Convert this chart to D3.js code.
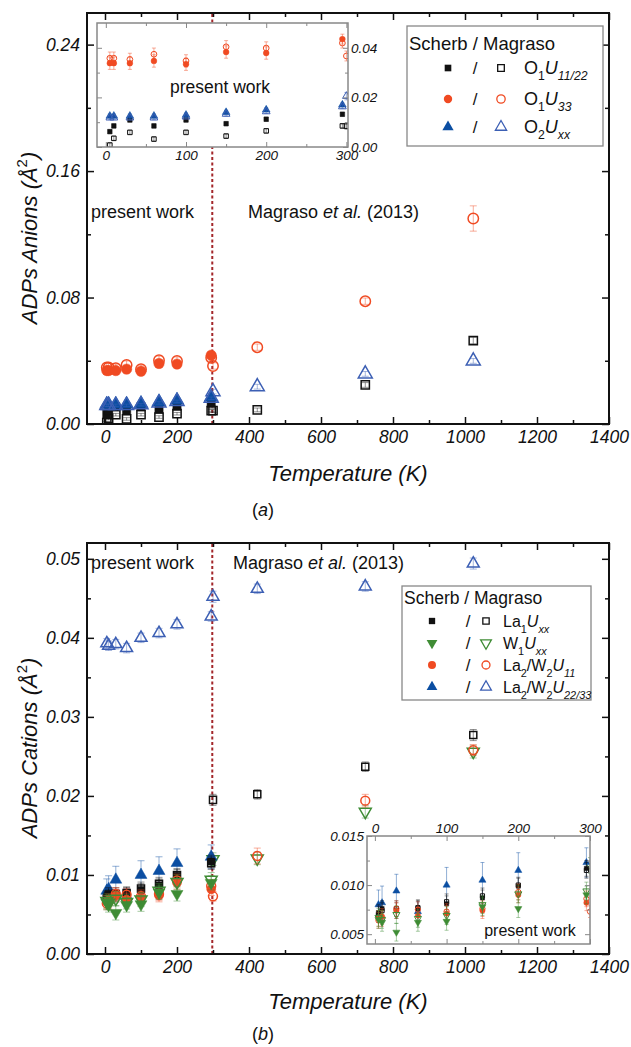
<!DOCTYPE html>
<html>
<head>
<meta charset="utf-8">
<script src="https://cdn.jsdelivr.net/npm/d3@7"></script>
<style>
  body { margin: 0; background: #fff; }
  text { font-family: "Liberation Sans", Arial, sans-serif; }
</style>
</head>
<body>
<svg id="fig" width="631" height="1047"></svg>
<script>
// temperatures (K)
const tempPresent = [5, 10, 30, 60, 100, 150, 200, 295];
const tempMagraso = [300, 423, 723, 1023];
const boundaryT = 298;

// ---- panel (a): anions ----
const o1U1122Scherb      = [0.0062, 0.0085, 0.0109, 0.0085, 0.0109, 0.0094, 0.0112, 0.0132];
const o1U1122ScherbErr   = [0.0008, 0.0008, 0.0008, 0.0008, 0.0008, 0.0008, 0.0008, 0.0008];
const o1U1122PwOpen      = [0.0008, 0.0035, 0.0059, 0.0032, 0.0059, 0.0044, 0.0065, 0.0085];
const o1U1122PwOpenErr   = [0.0008, 0.0008, 0.0008, 0.0008, 0.0008, 0.0008, 0.0008, 0.0008];
const o1U1122Magraso     = [0.0084, 0.0089, 0.0247, 0.0528];
const o1U1122MagrasoErr  = [0.0012, 0.0012, 0.0015, 0.0020];

const o1U33Scherb        = [0.0338, 0.0338, 0.0338, 0.0347, 0.0334, 0.0383, 0.0379, 0.0435];
const o1U33ScherbErr     = [0.0025, 0.0025, 0.0025, 0.0025, 0.0025, 0.0025, 0.0025, 0.0020];
const o1U33PwOpen        = [0.0358, 0.0358, 0.0353, 0.0374, 0.0347, 0.0404, 0.0399, 0.0419];
const o1U33PwOpenErr     = [0.0025, 0.0025, 0.0025, 0.0025, 0.0025, 0.0025, 0.0025, 0.0020];
const o1U33Magraso       = [0.0367, 0.0486, 0.0777, 0.1300];
const o1U33MagrasoErr    = [0.0020, 0.0020, 0.0020, 0.0080];

const o2UxxScherb        = [0.0125, 0.0125, 0.0125, 0.0125, 0.0129, 0.0140, 0.0150, 0.0170];
const o2UxxScherbErr     = [0.0008, 0.0008, 0.0008, 0.0008, 0.0008, 0.0008, 0.0008, 0.0008];
const o2UxxPwOpen        = [0.0118, 0.0118, 0.0118, 0.0118, 0.0122, 0.0133, 0.0143, 0.0163];
const o2UxxPwOpenErr     = [0.0008, 0.0008, 0.0008, 0.0008, 0.0008, 0.0008, 0.0008, 0.0008];
const o2UxxMagraso       = [0.0205, 0.0236, 0.0317, 0.0399];
const o2UxxMagrasoErr    = [0.0015, 0.0015, 0.0015, 0.0015];

// ---- panel (b): cations ----
const la1UxxScherb       = [0.0072, 0.0076, 0.0074, 0.0076, 0.0081, 0.0087, 0.0099, 0.0117];
const la1UxxScherbErr    = [0.0008, 0.0008, 0.0008, 0.0008, 0.0008, 0.0008, 0.0008, 0.0008];
const la1UxxPwOpen       = [0.0070, 0.0074, 0.0076, 0.0077, 0.0083, 0.0089, 0.0100, 0.0115];
const la1UxxPwOpenErr    = [0.0008, 0.0008, 0.0008, 0.0008, 0.0008, 0.0008, 0.0008, 0.0008];
const la1UxxMagraso      = [0.0195, 0.0202, 0.0237, 0.0277];
const la1UxxMagrasoErr   = [0.0007, 0.0006, 0.0006, 0.0007];

const w1UxxScherb        = [0.0065, 0.0062, 0.0052, 0.0062, 0.0063, 0.0078, 0.0076, 0.0090];
const w1UxxScherbErr     = [0.0009, 0.0009, 0.0009, 0.0009, 0.0009, 0.0009, 0.0009, 0.0009];
const w1UxxPwOpen        = [0.0067, 0.0065, 0.0070, 0.0066, 0.0069, 0.0080, 0.0091, 0.0094];
const w1UxxPwOpenErr     = [0.0009, 0.0009, 0.0009, 0.0009, 0.0009, 0.0009, 0.0009, 0.0009];
const w1UxxMagraso       = [0.0120, 0.0121, 0.0180, 0.0256];
const w1UxxMagrasoErr    = [0.0008, 0.0008, 0.0008, 0.0008];

const la2U11Scherb       = [0.0066, 0.0068, 0.0074, 0.0069, 0.0071, 0.0074, 0.0090, 0.0082];
const la2U11ScherbErr    = [0.0008, 0.0008, 0.0008, 0.0008, 0.0008, 0.0008, 0.0008, 0.0008];
const la2U11PwOpen       = [0.0064, 0.0066, 0.0076, 0.0075, 0.0073, 0.0076, 0.0093, 0.0086];
const la2U11PwOpenErr    = [0.0008, 0.0008, 0.0008, 0.0008, 0.0008, 0.0008, 0.0008, 0.0008];
const la2U11Magraso      = [0.0073, 0.0124, 0.0194, 0.0258];
const la2U11MagrasoErr   = [0.0006, 0.0010, 0.0008, 0.0007];

const la2U2233Scherb     = [0.0080, 0.0082, 0.0094, 0.0073, 0.0100, 0.0105, 0.0115, 0.0123];
const la2U2233ScherbErr  = [0.0015, 0.0017, 0.0017, 0.0010, 0.0018, 0.0018, 0.0018, 0.0015];
const la2U2233PwOpen     = [0.0393, 0.0390, 0.0392, 0.0387, 0.0400, 0.0406, 0.0417, 0.0427];
const la2U2233PwOpenErr  = [0.0006, 0.0006, 0.0006, 0.0006, 0.0006, 0.0006, 0.0006, 0.0006];
const la2U2233Magraso    = [0.0452, 0.0462, 0.0465, 0.0494];
const la2U2233MagrasoErr = [0.0007, 0.0006, 0.0006, 0.0007];

// ticks
const xMajorTicks = [0, 200, 400, 600, 800, 1000, 1200, 1400];
const xMinorTicks = [100, 300, 500, 700, 900, 1100, 1300];
const yMajorA = [0, 0.08, 0.16, 0.24];
const yMinorA = [0.04, 0.12, 0.20];
const yMajorB = [0, 0.01, 0.02, 0.03, 0.04, 0.05];
const yMinorB = [0.005, 0.015, 0.025, 0.035, 0.045];
const insetXMajor = [0, 100, 200, 300];
const insetXMinor = [50, 150, 250];
const insetYMajorA = [0, 0.02, 0.04];
const insetYMinorA = [0.01, 0.03];
const insetYMajorB = [0.005, 0.010, 0.015];
const insetYMinorB = [0.0075, 0.0125];

const BLACK = "#111", RED = "#f04a22", GREEN = "#3f8c35", BLUE = "#0b4ea2", BLUE_OPEN = "#3c5fb4";

const svg = d3.select("#fig");

function sym(shape) {
  if (shape === "square") return d3.symbolSquare;
  if (shape === "circle") return d3.symbolCircle;
  return d3.symbolTriangle;
}

// build list of series objects
function mk(temps, vals, errs, shape, filled, color) {
  return { pts: temps.map((t, i) => ({ t: t, v: vals[i], e: errs[i] })), shape, filled, color };
}

const seriesA = [
  mk(tempMagraso, o1U1122Magraso, o1U1122MagrasoErr, "square", false, BLACK),
  mk(tempMagraso, o1U33Magraso, o1U33MagrasoErr, "circle", false, RED),
  mk(tempMagraso, o2UxxMagraso, o2UxxMagrasoErr, "triangle", false, BLUE_OPEN),
  mk(tempPresent, o1U33PwOpen, o1U33PwOpenErr, "circle", false, RED),
  mk(tempPresent, o1U33Scherb, o1U33ScherbErr, "circle", true, RED),
  mk(tempPresent, o1U1122PwOpen, o1U1122PwOpenErr, "square", false, BLACK),
  mk(tempPresent, o1U1122Scherb, o1U1122ScherbErr, "square", true, BLACK),
  mk(tempPresent, o2UxxScherb, o2UxxScherbErr, "triangle", true, BLUE),
  mk(tempPresent, o2UxxPwOpen, o2UxxPwOpenErr, "triangle", false, BLUE_OPEN)
];

const seriesB = [
  mk(tempMagraso, la1UxxMagraso, la1UxxMagrasoErr, "square", false, BLACK),
  mk(tempMagraso, w1UxxMagraso, w1UxxMagrasoErr, "down", false, GREEN),
  mk(tempMagraso, la2U11Magraso, la2U11MagrasoErr, "circle", false, RED),
  mk(tempMagraso, la2U2233Magraso, la2U2233MagrasoErr, "triangle", false, BLUE_OPEN),
  mk(tempPresent, la2U2233PwOpen, la2U2233PwOpenErr, "triangle", false, BLUE_OPEN),
  mk(tempPresent, la2U2233Scherb, la2U2233ScherbErr, "triangle", true, BLUE),
  mk(tempPresent, la1UxxScherb, la1UxxScherbErr, "square", true, BLACK),
  mk(tempPresent, la1UxxPwOpen, la1UxxPwOpenErr, "square", false, BLACK),
  mk(tempPresent, la2U11Scherb, la2U11ScherbErr, "circle", true, RED),
  mk(tempPresent, la2U11PwOpen, la2U11PwOpenErr, "circle", false, RED),
  mk(tempPresent, w1UxxScherb, w1UxxScherbErr, "down", true, GREEN),
  mk(tempPresent, w1UxxPwOpen, w1UxxPwOpenErr, "down", false, GREEN)
];

let clipId = 0;
function drawPoints(g, list, x, y, size, cap, sw) {
  const id = "clip" + (clipId++);
  const [x0, x1] = x.range(), [y0, y1] = y.range();
  g.append("clipPath").attr("id", id).append("rect")
    .attr("x", x0).attr("y", y1).attr("width", x1 - x0).attr("height", y0 - y1);
  const pg = g.append("g").attr("clip-path", `url(#${id})`);
  list.forEach(s => {
    const sg = pg.append("g");
    // error bars
    s.pts.forEach(p => {
      const cx = x(p.t);
      sg.append("path")
        .attr("d", `M${cx},${y(p.v - p.e)}V${y(p.v + p.e)}M${cx - cap},${y(p.v - p.e)}H${cx + cap}M${cx - cap},${y(p.v + p.e)}H${cx + cap}`)
        .attr("stroke", s.color).attr("stroke-opacity", 0.45).attr("stroke-width", 1).attr("fill", "none");
    });
    const k = s.shape === "square" ? 0.8 : 1;
    sg.selectAll("path.m").data(s.pts).join("path").attr("class", "m")
      .attr("d", d3.symbol().type(sym(s.shape)).size(size * k))
      .attr("transform", p => `translate(${x(p.t)},${y(p.v)})` + (s.shape === "down" ? " rotate(180)" : ""))
      .attr("fill", s.filled ? s.color : "none")
      .attr("stroke", s.color)
      .attr("stroke-width", s.filled ? 0.5 : sw);
  });
}

function styleAxis(sel, color, width, fs) {
  sel.select(".domain").remove();
  sel.selectAll("line").attr("stroke", color).attr("stroke-width", width);
  sel.selectAll("text").attr("font-size", fs).attr("font-style", "italic").attr("fill", "#111")
    .attr("font-family", '"Liberation Sans", Arial, sans-serif');
}

function frame(g, x, y, o) {
  const [x0, x1] = x.range(), [y0, y1] = y.range();
  const c = o.color, w = o.width;
  const add = (axisFn, tr, vals, size, fmt) => {
    const a = axisFn.tickValues(vals).tickSize(-size).tickPadding(o.pad);
    a.tickFormat(fmt || "");
    g.append("g").attr("transform", tr).call(a).call(s => styleAxis(s, c, w, o.fs));
  };
  add(d3.axisBottom(x), `translate(0,${y0})`, o.xMajor, o.major, o.labels.bottom ? o.xFmt : null);
  add(d3.axisBottom(x), `translate(0,${y0})`, o.xMinor, o.minor);
  add(d3.axisTop(x), `translate(0,${y1})`, o.xMajor, o.major, o.labels.top ? o.xFmt : null);
  add(d3.axisTop(x), `translate(0,${y1})`, o.xMinor, o.minor);
  add(d3.axisLeft(y), `translate(${x0},0)`, o.yMajor, o.major, o.labels.left ? o.yFmt : null);
  add(d3.axisLeft(y), `translate(${x0},0)`, o.yMinor, o.minor);
  add(d3.axisRight(y), `translate(${x1},0)`, o.yMajor, o.major, o.labels.right ? o.yFmt : null);
  add(d3.axisRight(y), `translate(${x1},0)`, o.yMinor, o.minor);
  g.append("rect").attr("x", x0).attr("y", y1).attr("width", x1 - x0).attr("height", y0 - y1)
    .attr("fill", "none").attr("stroke", c).attr("stroke-width", o.frameW);
}

function richText(g, x, y, parts, fs) {
  const t = g.append("text").attr("x", x).attr("y", y).attr("font-size", fs).attr("fill", "#111");
  let shift = 0;
  parts.forEach(p => {
    const sp = t.append("tspan").text(p.t);
    const target = p.sub ? fs * 0.35 : (p.sup ? -fs * 0.45 : 0);
    if (target !== shift) { sp.attr("dy", target - shift); shift = target; }
    if (p.sub || p.sup) sp.attr("font-size", fs * 0.68);
    if (p.it) sp.attr("font-style", "italic");
  });
  return t;
}

function legend(g, o) {
  g.append("rect").attr("x", o.x).attr("y", o.y).attr("width", o.w).attr("height", o.h)
    .attr("fill", "#fff").attr("stroke", "#888").attr("stroke-width", 1.3);
  g.append("text").attr("x", o.x + 2).attr("y", o.titleY).attr("font-size", o.titleFs).attr("fill", "#111")
    .text("Scherb / Magraso");
  o.rows.forEach((r, i) => {
    const cy = o.rowY[i];
    const s = d3.symbol().type(sym(r.shape)).size(r.shape === "square" ? o.size * 0.8 : o.size);
    const rot = r.shape === "down" ? " rotate(180)" : "";
    g.append("path").attr("d", s).attr("transform", `translate(${o.fx},${cy})${rot}`).attr("fill", r.color);
    g.append("path").attr("d", s).attr("transform", `translate(${o.ox},${cy})${rot}`)
      .attr("fill", "none").attr("stroke", r.openColor || r.color).attr("stroke-width", 1.3);
    g.append("text").attr("x", o.sx).attr("y", cy + 6).attr("text-anchor", "middle")
      .attr("font-size", 17).attr("fill", "#111").text("/");
    richText(g, o.lx, cy + 6, r.label, o.fs);
  });
}

function dashedLine(g, x, y) {
  g.append("line").attr("x1", x(boundaryT)).attr("x2", x(boundaryT))
    .attr("y1", y.range()[0]).attr("y2", y.range()[1])
    .attr("stroke", "#a3262a").attr("stroke-width", 2).attr("stroke-dasharray", "3,2.5");
}

// ================= panel (a) =================
{
  const g = svg.append("g");
  const x = d3.scaleLinear().domain([-50, 1400]).range([87, 609]);
  const y = d3.scaleLinear().domain([0, 0.26]).range([424, 13]);
  dashedLine(g, x, y);
  drawPoints(g, seriesA, x, y, 85, 3.5, 1.5);
  frame(g, x, y, { color: "#111", width: 1.5, frameW: 2, major: 7, minor: 4, pad: 7, fs: 17.5,
    xMajor: xMajorTicks, xMinor: xMinorTicks, yMajor: yMajorA, yMinor: yMinorA,
    xFmt: d3.format("d"), yFmt: d3.format(".2f"), labels: { bottom: true, left: true } });

  g.append("text").attr("x", 91).attr("y", 218).attr("font-size", 18).attr("fill", "#111").text("present work");
  richText(g, 248, 218, [{ t: "Magraso " }, { t: "et al.", it: true }, { t: " (2013)" }], 18);

  // inset
  const ix = d3.scaleLinear().domain([-11, 302]).range([97, 348]);
  const iy = d3.scaleLinear().domain([0, 0.05]).range([147, 23]);
  g.append("rect").attr("x", 97).attr("y", 23).attr("width", 251).attr("height", 124).attr("fill", "#fff");
  drawPoints(g, seriesA, ix, iy, 26, 2, 1);
  frame(g, ix, iy, { color: "#888", width: 1, frameW: 1.5, major: 5, minor: 3, pad: 3, fs: 13.5,
    xMajor: insetXMajor, xMinor: insetXMinor, yMajor: insetYMajorA, yMinor: insetYMinorA,
    xFmt: d3.format("d"), yFmt: d3.format(".2f"), labels: { bottom: true, right: true } });
  g.append("text").attr("x", 220).attr("y", 93).attr("text-anchor", "middle").attr("font-size", 17.5)
    .attr("fill", "#111").text("present work");

  legend(g, { x: 407, y: 26, w: 196, h: 120, titleY: 50, titleFs: 18.5, fx: 448, sx: 475, ox: 501, lx: 524, fs: 18, size: 55,
    rowY: [68, 99, 127],
    rows: [
      { shape: "square", color: BLACK, label: [{ t: "O" }, { t: "1", sub: true }, { t: "U", it: true }, { t: "11/22", sub: true, it: true }] },
      { shape: "circle", color: RED, label: [{ t: "O" }, { t: "1", sub: true }, { t: "U", it: true }, { t: "33", sub: true, it: true }] },
      { shape: "triangle", color: BLUE, openColor: BLUE_OPEN, label: [{ t: "O" }, { t: "2", sub: true }, { t: "U", it: true }, { t: "xx", sub: true, it: true }] }
    ] });

  g.append("text").attr("x", 348).attr("y", 481).attr("text-anchor", "middle").attr("font-size", 22)
    .attr("font-style", "italic").attr("fill", "#111").text("Temperature (K)");
  const yt = richText(g, 0, 0, [{ t: "ADPs Anions (Å", it: true }, { t: "2", sup: true }, { t: ")", it: true }], 22);
  yt.attr("text-anchor", "middle").attr("transform", "translate(37,238) rotate(-90)");
  richText(g, 263, 516, [{ t: "(" }, { t: "a", it: true }, { t: ")" }], 18)
    .attr("text-anchor", "middle").attr("font-family", '"Liberation Serif", "DejaVu Serif", serif');
}

// ================= panel (b) =================
{
  const g = svg.append("g");
  const x = d3.scaleLinear().domain([-50, 1400]).range([87, 609]);
  const y = d3.scaleLinear().domain([0, 0.052]).range([954, 543]);
  dashedLine(g, x, y);
  drawPoints(g, seriesB, x, y, 62, 3.5, 1.5);
  frame(g, x, y, { color: "#111", width: 1.5, frameW: 2, major: 7, minor: 4, pad: 7, fs: 17.5,
    xMajor: xMajorTicks, xMinor: xMinorTicks, yMajor: yMajorB, yMinor: yMinorB,
    xFmt: d3.format("d"), yFmt: d3.format(".2f"), labels: { bottom: true, left: true } });

  g.append("text").attr("x", 91).attr("y", 569).attr("font-size", 18).attr("fill", "#111").text("present work");
  richText(g, 233, 569, [{ t: "Magraso " }, { t: "et al.", it: true }, { t: " (2013)" }], 18);

  // inset
  const ix = d3.scaleLinear().domain([-11, 300]).range([367, 590]);
  const iy = d3.scaleLinear().domain([0.004, 0.015]).range([944, 836]);
  g.append("rect").attr("x", 367).attr("y", 836).attr("width", 223).attr("height", 108).attr("fill", "#fff");
  drawPoints(g, seriesB, ix, iy, 22, 2, 1);
  frame(g, ix, iy, { color: "#888", width: 1, frameW: 1.5, major: 5, minor: 3, pad: 3, fs: 13.5,
    xMajor: insetXMajor, xMinor: insetXMinor, yMajor: insetYMajorB, yMinor: insetYMinorB,
    xFmt: d3.format("d"), yFmt: d3.format(".3f"), labels: { top: true, left: true } });
  g.append("text").attr("x", 530).attr("y", 936).attr("text-anchor", "middle").attr("font-size", 16)
    .attr("fill", "#111").text("present work");

  legend(g, { x: 402, y: 586, w: 189, h: 114, titleY: 604, titleFs: 17.5, fx: 432, sx: 468, ox: 486, lx: 503, fs: 16, size: 50,
    rowY: [621, 643, 665, 687],
    rows: [
      { shape: "square", color: BLACK, label: [{ t: "La" }, { t: "1", sub: true }, { t: "U", it: true }, { t: "xx", sub: true, it: true }] },
      { shape: "down", color: GREEN, label: [{ t: "W" }, { t: "1", sub: true }, { t: "U", it: true }, { t: "xx", sub: true, it: true }] },
      { shape: "circle", color: RED, label: [{ t: "La" }, { t: "2", sub: true }, { t: "/W" }, { t: "2", sub: true }, { t: "U", it: true }, { t: "11", sub: true, it: true }] },
      { shape: "triangle", color: BLUE, openColor: BLUE_OPEN, label: [{ t: "La" }, { t: "2", sub: true }, { t: "/W" }, { t: "2", sub: true }, { t: "U", it: true }, { t: "22/33", sub: true, it: true }] }
    ] });

  g.append("text").attr("x", 348).attr("y", 1009).attr("text-anchor", "middle").attr("font-size", 22)
    .attr("font-style", "italic").attr("fill", "#111").text("Temperature (K)");
  const yt = richText(g, 0, 0, [{ t: "ADPs Cations (Å", it: true }, { t: "2", sup: true }, { t: ")", it: true }], 22);
  yt.attr("text-anchor", "middle").attr("transform", "translate(37,748) rotate(-90)");
  richText(g, 263, 1040, [{ t: "(" }, { t: "b", it: true }, { t: ")" }], 18)
    .attr("text-anchor", "middle").attr("font-family", '"Liberation Serif", "DejaVu Serif", serif');
}
</script>
</body>
</html>
